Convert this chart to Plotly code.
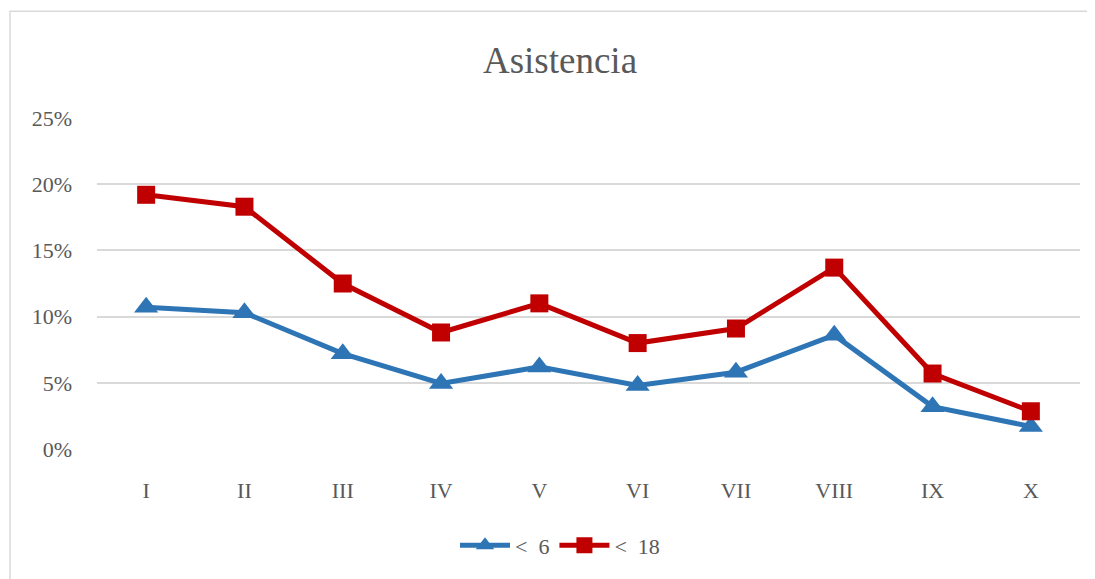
import plotly.graph_objects as go

categories = ["I", "II", "III", "IV", "V", "VI", "VII", "VIII", "IX", "X"]
menores_6 = [0.107, 0.103, 0.072, 0.0495, 0.062, 0.048, 0.058, 0.086, 0.032, 0.017]
menores_18 = [0.192, 0.183, 0.125, 0.088, 0.110, 0.080, 0.091, 0.137, 0.057, 0.0285]
series_names = ["<  6", "<  18"]
y_ticks = [0, 0.05, 0.10, 0.15, 0.20, 0.25]
y_tick_text = ["0%", "5%", "10%", "15%", "20%", "25%"]

FONT = "Liberation Serif"
GRAY = "#595959"

fig = go.Figure()
fig.add_trace(go.Scatter(
    x=categories, y=menores_6, name=series_names[0], mode="lines+markers",
    line=dict(color="#2E75B6", width=5),
    marker=dict(symbol="triangle-up", size=21, color="#2E75B6"),
))
fig.add_trace(go.Scatter(
    x=categories, y=menores_18, name=series_names[1], mode="lines+markers",
    line=dict(color="#C00000", width=5),
    marker=dict(symbol="square", size=18, color="#C00000"),
))

OFF = 8  # page body margin offset
W, H = 1095 - OFF, 579 - OFF
# target plot area in screen px: x 97..1080, y 118..451
L, T = 97 - OFF, 118 - OFF
R = W - (1080 - OFF)
B = H - (451 - OFF)
pw, ph = W - L - R, H - T - B

def px_x(x):
    return (x - OFF - L) / pw

def px_y(y):
    return (H - B - (y - OFF)) / ph

fig.add_shape(type="rect", xref="paper", yref="paper",
              x0=px_x(10), x1=px_x(1200), y0=px_y(800), y1=px_y(10.5),
              line=dict(color="#d9d9d9", width=1.5), fillcolor="rgba(0,0,0,0)", layer="below")

fig.update_layout(
    width=W, height=H,
    margin=dict(l=L, r=R, t=T, b=B),
    paper_bgcolor="white", plot_bgcolor="white",
    font=dict(family=FONT, color=GRAY, size=22),
    title=dict(text="Asistencia", xref="container", x=(560 - OFF) / W, xanchor="center",
               yref="container", y=(H - (60 - OFF)) / H, yanchor="middle",
               font=dict(family=FONT, size=37, color=GRAY)),
    xaxis=dict(type="category", range=[-0.5, 9.5], showgrid=False, zeroline=False,
               showline=False, ticks="", tickfont=dict(size=22, color=GRAY), ticklabelstandoff=26),
    yaxis=dict(range=[0, 0.25], tickvals=y_ticks, ticktext=y_tick_text,
               showgrid=True, gridcolor="#d9d9d9", gridwidth=1.5, zeroline=False,
               showline=False, ticks="", tickfont=dict(size=22, color=GRAY), ticklabelstandoff=24),
    legend=dict(orientation="h", x=px_x(560), xanchor="center", y=px_y(548), yanchor="middle",
                font=dict(size=22, color=GRAY), bgcolor="rgba(0,0,0,0)", itemwidth=50),
    showlegend=True,
)

fig.write_html("out.html")
